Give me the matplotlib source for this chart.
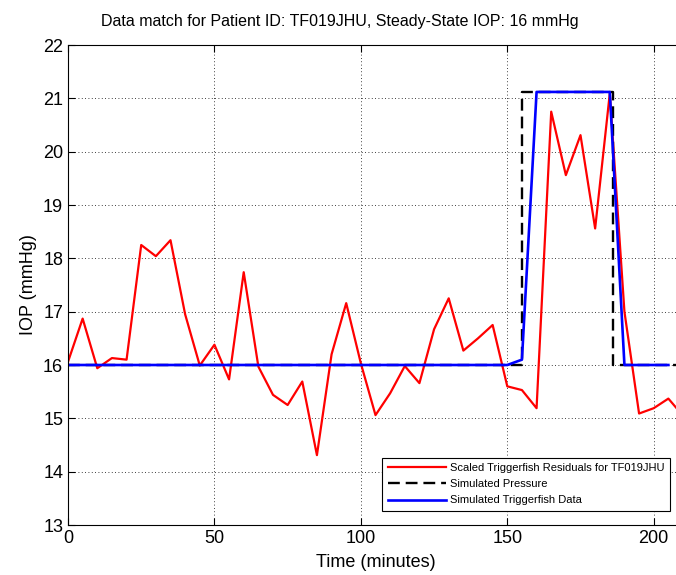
import matplotlib
matplotlib.use("Agg")
import matplotlib.pyplot as plt
import numpy as np

# time in minutes, IOP in mmHg
t_resid = np.arange(0, 215, 5)
iop_resid = [16.06, 16.87, 15.94, 16.13, 16.10, 18.25, 18.04, 18.34, 16.95, 15.99,
             16.38, 15.73, 17.74, 15.97, 15.44, 15.25, 15.69, 14.31, 16.20, 17.16,
             16.03, 15.06, 15.47, 15.98, 15.66, 16.67, 17.25, 16.27, 16.50, 16.75,
             15.60, 15.53, 15.19, 20.75, 19.56, 20.31, 18.56, 21.09, 17.00, 15.09,
             15.19, 15.37, 15.05]

t_press = [0, 155, 155, 186, 186, 210]
iop_press = [16, 16, 21.12, 21.12, 16, 16]

t_sim = np.arange(0, 210, 5)
iop_sim = [16.0] * 31 + [16.1] + [21.12] * 6 + [16.0] * 4

title = "Data match for Patient ID: TF019JHU, Steady-State IOP: 16 mmHg"

plt.rcParams["font.family"] = ["Liberation Sans", "DejaVu Sans"]

fig = plt.figure(figsize=(6.76, 5.75), dpi=100)
# axes runs slightly past the right edge (cropped like the original)
ax = fig.add_axes([68 / 676, 50 / 575, (683 - 68) / 676, 480 / 575])

ax.plot(t_resid, iop_resid, color="#ff0000", lw=1.6,
        label="Scaled Triggerfish Residuals for TF019JHU")
ax.plot(t_press, iop_press, color="black", lw=1.7, ls=(0, (5, 2.5)),
        label="Simulated Pressure")
ax.plot(t_sim, iop_sim, color="#0000ff", lw=1.9,
        label="Simulated Triggerfish Data")

ax.set_xlim(0, 210)
ax.set_ylim(13, 22)
ax.set_xticks([0, 50, 100, 150, 200])
ax.set_yticks(np.arange(13, 23, 1))
ax.tick_params(direction="in", length=5, top=True, right=True, labelsize=13)
ax.grid(True, color="black", ls=(0, (1, 3)), lw=0.6)

ax.set_xlabel("Time (minutes)", fontsize=13, labelpad=5)
ax.set_ylabel("IOP (mmHg)", fontsize=13, labelpad=4)
ax.set_title(title, fontsize=11.5, pad=14, x=(340 - 68) / (683 - 68))

leg = ax.legend(loc="lower right", bbox_to_anchor=((670 - 68) / 615, (525 - 511) / 480),
                borderaxespad=0, fontsize=8, frameon=True, fancybox=False,
                framealpha=1, edgecolor="black", borderpad=0.5, handlelength=5.2,
                handletextpad=0.4, labelspacing=0.55)
leg.get_frame().set_linewidth(0.8)

fig.savefig("out.png", dpi=100)
